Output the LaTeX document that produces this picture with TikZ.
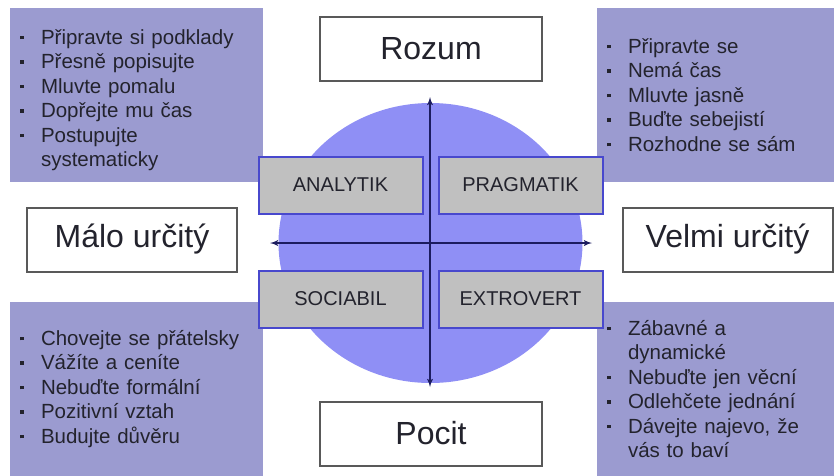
\documentclass[tikz,border=0pt]{standalone}
\usepackage{fontspec}
\setmainfont{Liberation Sans}
\usepackage{xcolor}
\usetikzlibrary{shapes.geometric, arrows, positioning}
\definecolor{tipfill}{RGB}{155,155,208}
\definecolor{ovalfill}{RGB}{143,143,245}
\definecolor{typefill}{RGB}{192,192,192}
\definecolor{typeline}{RGB}{72,72,205}
\definecolor{axisline}{RGB}{28,28,95}
\definecolor{inktext}{RGB}{35,35,45}
\newcommand{\tipfont}{\fontsize{20.5}{24.5}\selectfont}
\newcommand{\bul}{\makebox[21pt][l]{\rule[5pt]{3.5pt}{3.5pt}}}
\tikzstyle{tips} = [rectangle, fill=tipfill, inner xsep=10pt, inner ysep=0pt, align=left, font=\tipfont, text=inktext]
\tikzstyle{pole} = [rectangle, draw=gray!70!black, fill=white, line width=2pt, minimum width=210pt, minimum height=64pt, font=\fontsize{32}{38}\selectfont, text=inktext]
\tikzstyle{typebox} = [rectangle, draw=typeline, fill=typefill, line width=2pt, minimum width=164pt, minimum height=57pt, font=\fontsize{20}{24}\selectfont, text=inktext]
\tikzstyle{axis} = [<->, line width=1.8pt, draw=axisline]

\begin{document}
\begin{tikzpicture}[x=1pt, y=-1pt, >=latex']
	\useasboundingbox (0,0) rectangle (834,475);
	% tips for each type
	\node [tips, text width=233pt, minimum height=174pt] (tipsanalytik) at (136.5,95) {\rule{0pt}{25pt}\bul Připravte si podklady\\ \bul Přesně popisujte\\ \bul Mluvte pomalu\\ \bul Dopřejte mu čas\\ \bul Postupujte\\ \hspace*{21pt}systematicky};
	\node [tips, text width=217pt, minimum height=174pt] (tipspragmatik) at (715.5,95) {\bul Připravte se\\ \bul Nemá čas\\ \bul Mluvte jasně\\ \bul Buďte sebejistí\\ \bul Rozhodne se sám};
	\node [tips, text width=233pt, minimum height=174pt] (tipssociabil) at (136.5,389) {\bul Chovejte se přátelsky\\ \bul Vážíte a ceníte\\ \bul Nebuďte formální\\ \bul Pozitivní vztah\\ \bul Budujte důvěru};
	\node [tips, text width=217pt, minimum height=174pt] (tipsextrovert) at (715.5,389) {\bul Zábavné a\\ \hspace*{21pt}dynamické\\ \bul Nebuďte jen věcní\\ \bul Odlehčete jednání\\ \bul Dávejte najevo, že\\ \hspace*{21pt}vás to baví};

	\node [ellipse, fill=ovalfill, minimum width=304pt, minimum height=280pt] (oval) at (430.5,243) {};

	\coordinate (axtop) at (430,97);
	\coordinate (axbottom) at (430,387);
	\coordinate (axleft) at (270,243);
	\coordinate (axright) at (592,243);
	\draw [axis] (axtop) -- (axbottom);
	\draw [axis] (axleft) -- (axright);

	\node [typebox] (analytik) at (340.5,185) {ANALYTIK};
	\node [typebox, right=14pt of analytik] (pragmatik) {PRAGMATIK};
	\node [typebox] (sociabil) at (340.5,299) {SOCIABIL};
	\node [typebox, right=14pt of sociabil] (extrovert) {EXTROVERT};

	\node [pole, minimum width=222pt] (rozum) at (431,49) {Rozum};
	\node [pole, minimum width=222pt] (pocit) at (431,433.5) {Pocit};
	\node [pole] (malo) at (132,239.5) {Málo určitý};
	\node [pole] (velmi) at (727.5,239.5) {Velmi určitý};
\end{tikzpicture}
\end{document}
